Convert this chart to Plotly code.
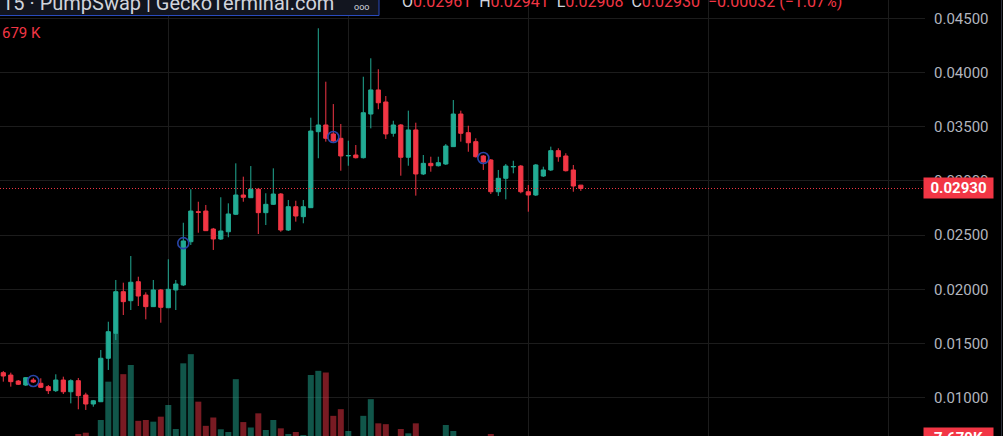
import plotly.graph_objects as go

# ---------------- data ----------------
candle_idx = list(range(78))
open_ = [0.01231, 0.01209, 0.01154, 0.01117, 0.01163, 0.01133, 0.01102, 0.01065, 0.01163, 0.01055,
         0.01157, 0.01025, 0.00942, 0.00963, 0.01364, 0.01594, 0.01978, 0.01895, 0.02070, 0.01947,
         0.01840, 0.01994, 0.01830, 0.01994, 0.02040, 0.02439, 0.02716, 0.02722, 0.02556, 0.02464,
         0.02531, 0.02692, 0.02870, 0.02845, 0.02923, 0.02707, 0.02784, 0.02879, 0.02547, 0.02762,
         0.02670, 0.02753, 0.03454, 0.03516, 0.03433, 0.03393, 0.03231, 0.03239, 0.03214, 0.03617,
         0.03839, 0.03728, 0.03439, 0.03516, 0.03218, 0.03470, 0.03064, 0.03162, 0.03140, 0.03156,
         0.03316, 0.03617, 0.03445, 0.03362, 0.03230, 0.03193, 0.02900, 0.03024, 0.03129, 0.03137,
         0.02900, 0.02870, 0.03045, 0.03101, 0.03279, 0.03230, 0.03101, 0.02961]
high = [0.01246, 0.01231, 0.01163, 0.01191, 0.01182, 0.01179, 0.01117, 0.01216, 0.01194, 0.01170,
        0.01182, 0.01046, 0.00979, 0.01440, 0.01701, 0.02086, 0.02061, 0.02307, 0.02116, 0.01972,
        0.02086, 0.02003, 0.02277, 0.02086, 0.02614, 0.02923, 0.02808, 0.02778, 0.02566, 0.02849,
        0.02793, 0.03162, 0.03039, 0.03137, 0.02935, 0.02886, 0.03116, 0.02888, 0.02824, 0.02817,
        0.02824, 0.03583, 0.04408, 0.03915, 0.03709, 0.03525, 0.03371, 0.03331, 0.03961, 0.04131,
        0.04030, 0.03783, 0.03555, 0.03525, 0.03648, 0.03537, 0.03239, 0.03223, 0.03223, 0.03340,
        0.03746, 0.03648, 0.03509, 0.03393, 0.03239, 0.03202, 0.03101, 0.03156, 0.03186, 0.03147,
        0.02962, 0.03156, 0.03131, 0.03316, 0.03301, 0.03255, 0.03147, 0.02961]
low = [0.01148, 0.01102, 0.01117, 0.01108, 0.01136, 0.01090, 0.01034, 0.01053, 0.01034, 0.00948,
       0.00893, 0.00887, 0.00917, 0.00960, 0.01256, 0.01532, 0.01763, 0.01809, 0.01846, 0.01723,
       0.01837, 0.01692, 0.01828, 0.01809, 0.02030, 0.02409, 0.02522, 0.02538, 0.02363, 0.02455,
       0.02480, 0.02685, 0.02808, 0.02842, 0.02510, 0.02593, 0.02778, 0.02531, 0.02538, 0.02624,
       0.02609, 0.02750, 0.03209, 0.03362, 0.03350, 0.03094, 0.03140, 0.03207, 0.03207, 0.03485,
       0.03661, 0.03387, 0.03408, 0.03048, 0.03140, 0.02864, 0.03054, 0.03085, 0.03133, 0.03147,
       0.03313, 0.03362, 0.03269, 0.03216, 0.03101, 0.02879, 0.02861, 0.02830, 0.03070, 0.02886,
       0.02716, 0.02861, 0.03036, 0.03091, 0.03177, 0.03087, 0.02900, 0.02908]
close = [0.01200, 0.01148, 0.01124, 0.01185, 0.01145, 0.01096, 0.01065, 0.01163, 0.01055, 0.01157,
         0.01019, 0.00942, 0.00972, 0.01364, 0.01609, 0.01978, 0.01886, 0.02065, 0.01938, 0.01840,
         0.01994, 0.01834, 0.02000, 0.02049, 0.02446, 0.02722, 0.02710, 0.02541, 0.02464, 0.02538,
         0.02695, 0.02870, 0.02849, 0.02923, 0.02707, 0.02784, 0.02879, 0.02547, 0.02762, 0.02676,
         0.02762, 0.03460, 0.03516, 0.03393, 0.03368, 0.03230, 0.03234, 0.03214, 0.03629, 0.03839,
         0.03721, 0.03433, 0.03516, 0.03218, 0.03470, 0.03064, 0.03162, 0.03140, 0.03168, 0.03322,
         0.03617, 0.03439, 0.03352, 0.03223, 0.03174, 0.02900, 0.03024, 0.03137, 0.03133, 0.02900,
         0.02870, 0.03147, 0.03101, 0.03279, 0.03223, 0.03094, 0.02953, 0.02930]
volume_k = [5.2, 4.8, 3.9, 4.5, 3.6, 6.1, 5.5, 7.2, 6.8, 7.5,
            8.64, 8.95, 7.3, 12.0, 21.2, 32.8, 23.0, 25.2, 11.8, 12.0,
            11.6, 12.8, 15.6, 9.84, 25.6, 27.8, 16.4, 10.6, 12.6, 9.77,
            9.12, 21.8, 11.5, 10.2, 13.6, 9.6, 12.0, 10.0, 8.64, 9.12,
            8.4, 22.8, 23.8, 23.4, 13.0, 14.6, 9.36, 7.0, 13.0, 17.0,
            11.2, 11.0, 7.5, 9.84, 8.8, 11.2, 7.6, 6.2, 5.8, 10.8,
            9.36, 7.9, 6.5, 7.1, 5.9, 8.64, 7.4, 6.8, 4.9, 7.2,
            6.1, 7.8, 5.3, 6.6, 5.7, 6.3, 7.1, 7.679]
marker_idx = [4, 24, 44, 64]
marker_price = [0.01154, 0.02426, 0.03405, 0.03211]
price_ticks = [0.010, 0.015, 0.020, 0.025, 0.030, 0.035, 0.040, 0.045]
price_tick_text = ["0.01000", "0.01500", "0.02000", "0.02500", "0.03000", "0.03500", "0.04000", "0.04500"]
vgrid_idx = [22, 46, 70, 94, 118]
last_price = 0.02930
last_price_text = "0.02930"
last_volume_text = "7.679K"
title_text = "15 · PumpSwap | GeckoTerminal.com"
ohlc_labels = ["O", "H", "L", "C"]
ohlc_values = ["0.02961", "0.02941", "0.02908", "0.02930"]
change_text = "−0.00032 (−1.07%)"
vol_legend_text = "679 K"

UP = "#22ab94"
DOWN = "#f23645"
UP_VOL = "rgba(34,171,148,0.5)"
DOWN_VOL = "rgba(242,54,69,0.5)"
BG = "#000000"
GRID = "#1c1c1c"
AXIS_TXT = "#b2b5be"
FONT = "Roboto"

vol_colors = [UP_VOL if c >= o else DOWN_VOL for o, c in zip(open_, close)]

fig = go.Figure()
fig.add_trace(go.Bar(x=candle_idx, y=volume_k, marker=dict(color=vol_colors, line=dict(width=0)),
                     yaxis="y", hoverinfo="skip", showlegend=False))
fig.add_trace(go.Candlestick(
    x=candle_idx, open=open_, high=high, low=low, close=close, yaxis="y2",
    increasing=dict(line=dict(color=UP, width=1), fillcolor=UP),
    decreasing=dict(line=dict(color=DOWN, width=1), fillcolor=DOWN),
    whiskerwidth=0, showlegend=False))
fig.add_trace(go.Scatter(x=marker_idx, y=marker_price, mode="markers", yaxis="y2",
                         marker=dict(symbol="circle-open", size=11, color="#2845a8",
                                     line=dict(width=1.6, color="#2845a8")),
                         showlegend=False, hoverinfo="skip"))

W, H = 1003, 436
PLOT_W = 925
fig.update_layout(
    width=W, height=H, autosize=False,
    margin=dict(l=0, r=W - PLOT_W, t=0, b=0, pad=0),
    paper_bgcolor=BG, plot_bgcolor=BG,
    bargap=0.2, boxgap=0.2,
    font=dict(family=FONT, color=AXIS_TXT),
    xaxis=dict(range=[-0.44, 122.89], showticklabels=False, ticks="",
               tickvals=vgrid_idx, showgrid=True, gridcolor=GRID, gridwidth=1,
               zeroline=False, showline=False, rangeslider=dict(visible=False), fixedrange=True),
    yaxis=dict(range=[8.16, 112.8], visible=False, showgrid=False, fixedrange=True),
    yaxis2=dict(range=[0.006468, 0.046688], overlaying="y", side="right",
                tickvals=price_ticks, ticktext=price_tick_text, ticks="",
                ticklabelposition="outside", ticklabelstandoff=8,
                tickfont=dict(family=FONT, size=15, color=AXIS_TXT),
                showgrid=True, gridcolor=GRID, gridwidth=1, zeroline=False, showline=False,
                fixedrange=True),
    showlegend=False,
)

# current price dotted line
fig.add_shape(type="line", xref="paper", yref="y2", x0=0, x1=1, y0=last_price, y1=last_price,
              line=dict(color=DOWN, width=1, dash="1px,2px"))
# right border line
fig.add_shape(type="line", xref="paper", yref="paper", x0=1001.5 / PLOT_W, x1=1001.5 / PLOT_W,
              y0=0, y1=1, line=dict(color="#2a2e39", width=1))
# header box
fig.add_shape(type="rect", xref="paper", yref="paper", x0=-0.01, x1=379 / PLOT_W,
              y0=1 - 15.5 / H, y1=1.1, fillcolor="#12151f",
              line=dict(color="#2a4bbd", width=1))

# price label
fig.add_annotation(xref="paper", yref="y2", x=958.7 / PLOT_W, y=last_price, text="<b>%s</b>" % last_price_text,
                   showarrow=False, xanchor="center", yanchor="middle",
                   font=dict(family=FONT, size=15, color="#ffffff"),
                   bgcolor=DOWN, width=69, height=20, borderpad=0)
# volume label (cut off at bottom)
fig.add_annotation(xref="paper", yref="paper", x=958.7 / PLOT_W, y=-2 / H, text="<b>%s</b>" % last_volume_text,
                   showarrow=False, xanchor="center", yanchor="middle",
                   font=dict(family=FONT, size=15, color="#ffffff"),
                   bgcolor=DOWN, width=69, height=20, borderpad=0)

# header title
fig.add_annotation(xref="paper", yref="paper", x=0, y=1 - 3 / H, text=title_text,
                   showarrow=False, xanchor="left", yanchor="middle",
                   font=dict(family=FONT, size=20, color="#d1d4dc"))
fig.add_annotation(xref="paper", yref="paper", x=352 / PLOT_W, y=1 - 7 / H, text="ooo",
                   showarrow=False, xanchor="left", yanchor="middle",
                   font=dict(family=FONT, size=9, color="#d1d4dc"))

# OHLC legend
parts = []
for lab, val in zip(ohlc_labels, ohlc_values):
    parts.append("<span style='color:#d1d4dc'>%s</span><span style='color:%s'>%s</span>" % (lab, DOWN, val))
ohlc_html = "&nbsp;&nbsp;".join(parts) + "&nbsp;&nbsp;<span style='color:%s'>%s</span>" % (DOWN, change_text)
fig.add_annotation(xref="paper", yref="paper", x=400 / PLOT_W, y=1 - 2 / H, text=ohlc_html,
                   showarrow=False, xanchor="left", yanchor="middle",
                   font=dict(family=FONT, size=16, color=DOWN))

# volume legend
fig.add_annotation(xref="paper", yref="paper", x=0, y=1 - 33 / H, text=vol_legend_text,
                   showarrow=False, xanchor="left", yanchor="middle",
                   font=dict(family=FONT, size=15, color=DOWN))

fig.write_html("out.html", config={"displayModeBar": False},
               post_script="document.body.style.margin='0';document.body.style.background='#000';")
